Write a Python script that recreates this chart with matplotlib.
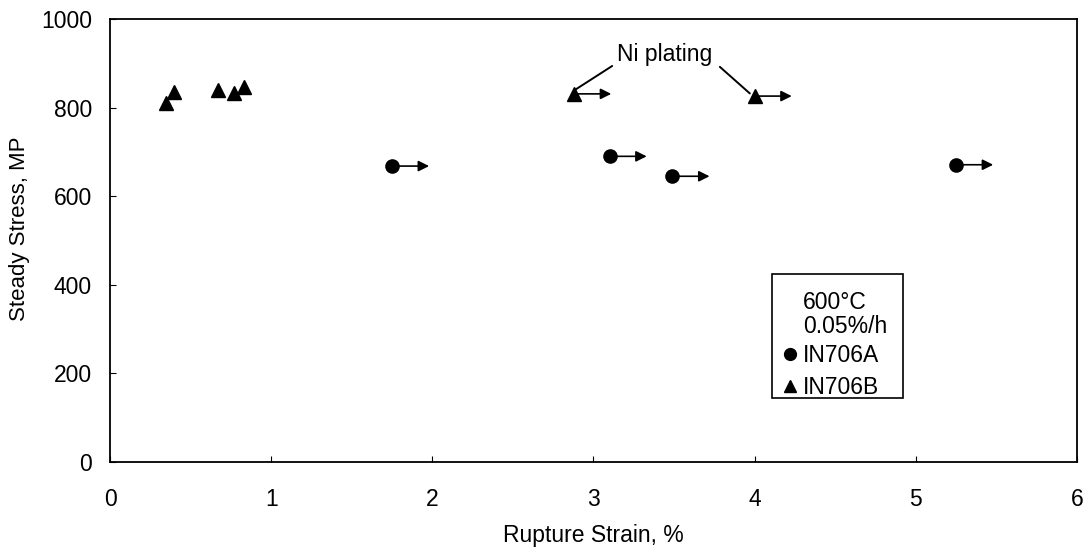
import matplotlib
matplotlib.use("Agg")
import matplotlib.pyplot as plt
from matplotlib.patches import Rectangle

plt.rcParams["font.family"] = ["Liberation Sans", "DejaVu Sans"]

# IN706A (circles, run-outs)
strain_a = [1.75, 3.10, 3.49, 5.25]
stress_a = [668, 690, 645, 671]

# IN706B (triangles)
strain_b = [0.35, 0.40, 0.67, 0.77, 0.83]
stress_b = [810, 836, 840, 832, 846]

# IN706B with Ni plating (run-outs)
strain_ni = [2.88, 4.00]
stress_ni = [831, 826]

arrow_len = 0.23
legend_lines = ["600°C", "0.05%/h", "IN706A", "IN706B"]

fig = plt.figure(figsize=(10.86, 5.48), dpi=100)
ax = fig.add_axes([0.1013, 0.157, 0.8904, 0.8083])

ax.plot(strain_a, stress_a, "o", color="black", markersize=9.5, linestyle="none")
ax.plot(strain_b + strain_ni, stress_b + stress_ni, "^", color="black",
        markersize=10, linestyle="none")

# run-out arrows
for x, y in zip(strain_a + strain_ni, stress_a + stress_ni):
    ax.annotate("", xy=(x + arrow_len, y), xytext=(x, y),
                arrowprops=dict(arrowstyle="-|>", color="black", lw=1.2,
                                mutation_scale=16, shrinkA=0, shrinkB=0))

# Ni plating callout
ax.text(3.44, 919, "Ni plating", fontsize=16.5, ha="center", va="center")
ax.annotate("", xy=(2.885, 840), xytext=(3.116, 894),
            arrowprops=dict(arrowstyle="-", color="black", lw=1.4,
                            shrinkA=0, shrinkB=0))
ax.annotate("", xy=(3.97, 832), xytext=(3.784, 892),
            arrowprops=dict(arrowstyle="-", color="black", lw=1.4,
                            shrinkA=0, shrinkB=0))

ax.set_xlim(0, 6)
ax.set_ylim(0, 1000)
ax.set_xticks(range(0, 7))
ax.set_yticks(range(0, 1001, 200))
ax.tick_params(direction="in", length=4, labelsize=16.5)
ax.tick_params(axis="x", pad=19)
ax.tick_params(axis="y", pad=13)
for s in ax.spines.values():
    s.set_linewidth(1.3)

ax.set_xlabel("Rupture Strain, %", fontsize=16.5)
ax.xaxis.set_label_coords(0.5, -0.14)
ax.set_ylabel("Steady Stress, MP", fontsize=16)
ax.yaxis.set_label_coords(-0.0825, 0.526)

# legend box drawn in data units
ax.add_patch(Rectangle((4.107, 144.5), 0.812, 279.5, fill=False,
                       edgecolor="black", linewidth=1.2, zorder=3))
ax.text(4.30, 361, legend_lines[0], fontsize=16.5, va="center")
ax.text(4.30, 305, legend_lines[1], fontsize=16.5, va="center")
ax.text(4.30, 241, legend_lines[2], fontsize=16.5, va="center")
ax.text(4.30, 169, legend_lines[3], fontsize=16.5, va="center")
ax.plot([4.22], [243], "o", color="black", markersize=8.5)
ax.plot([4.22], [171], "^", color="black", markersize=8.5)

fig.savefig("out.png", dpi=100)
